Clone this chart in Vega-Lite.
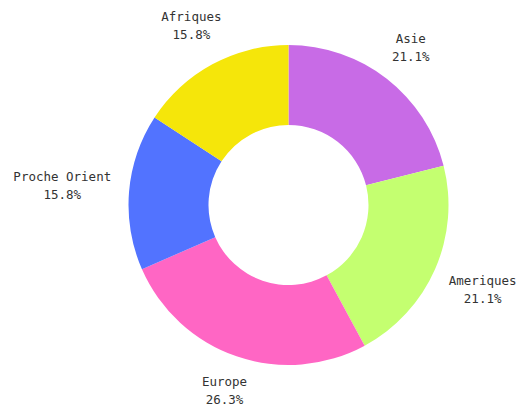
{
  "$schema": "https://vega.github.io/schema/vega-lite/v6.json",
  "width": 485,
  "height": 406,
  "autosize": "none",
  "padding": {"left": 46, "top": 2, "right": 0, "bottom": 0},
  "background": "white",
  "data": {
    "values": [
      {"region": "Asie", "value": 4, "rank": 1, "label": "Asie\n21.1%"},
      {"region": "Ameriques", "value": 4, "rank": 2, "label": "Ameriques\n21.1%"},
      {"region": "Europe", "value": 5, "rank": 3, "label": "Europe\n26.3%"},
      {"region": "Proche Orient", "value": 3, "rank": 4, "label": "Proche Orient\n15.8%"},
      {"region": "Afriques", "value": 3, "rank": 5, "label": "Afriques\n15.8%"}
    ]
  },
  "encoding": {
    "theta": {"field": "value", "type": "quantitative", "stack": true},
    "order": {"field": "rank", "type": "quantitative"}
  },
  "layer": [
    {
      "mark": {"type": "arc", "outerRadius": 160, "innerRadius": 80},
      "encoding": {
        "color": {
          "field": "region",
          "type": "nominal",
          "legend": null,
          "scale": {
            "domain": ["Asie", "Ameriques", "Europe", "Proche Orient", "Afriques"],
            "range": ["#c86be6", "#c4ff70", "#ff66c4", "#5273ff", "#f5e60a"]
          }
        }
      }
    },
    {
      "mark": {"type": "text", "radius": 199, "dy": -9, "font": "DejaVu Sans Mono", "fontSize": 12.5, "lineHeight": 18, "lineBreak": "\n", "align": "center", "baseline": "middle", "color": "#333333"},
      "encoding": {
        "text": {"condition": {"test": "datum.region === 'Asie'", "field": "label"}, "value": ""}
      }
    },
    {
      "mark": {"type": "text", "radius": 212, "dy": -9, "font": "DejaVu Sans Mono", "fontSize": 12.5, "lineHeight": 18, "lineBreak": "\n", "align": "center", "baseline": "middle", "color": "#333333"},
      "encoding": {
        "text": {"condition": {"test": "datum.region === 'Ameriques'", "field": "label"}, "value": ""}
      }
    },
    {
      "mark": {"type": "text", "radius": 197, "dy": -9, "font": "DejaVu Sans Mono", "fontSize": 12.5, "lineHeight": 18, "lineBreak": "\n", "align": "center", "baseline": "middle", "color": "#333333"},
      "encoding": {
        "text": {"condition": {"test": "datum.region === 'Europe'", "field": "label"}, "value": ""}
      }
    },
    {
      "mark": {"type": "text", "radius": 227, "dy": -9, "font": "DejaVu Sans Mono", "fontSize": 12.5, "lineHeight": 18, "lineBreak": "\n", "align": "center", "baseline": "middle", "color": "#333333"},
      "encoding": {
        "text": {"condition": {"test": "datum.region === 'Proche Orient'", "field": "label"}, "value": ""}
      }
    },
    {
      "mark": {"type": "text", "radius": 204, "dy": -9, "font": "DejaVu Sans Mono", "fontSize": 12.5, "lineHeight": 18, "lineBreak": "\n", "align": "center", "baseline": "middle", "color": "#333333"},
      "encoding": {
        "text": {"condition": {"test": "datum.region === 'Afriques'", "field": "label"}, "value": ""}
      }
    }
  ]
}
